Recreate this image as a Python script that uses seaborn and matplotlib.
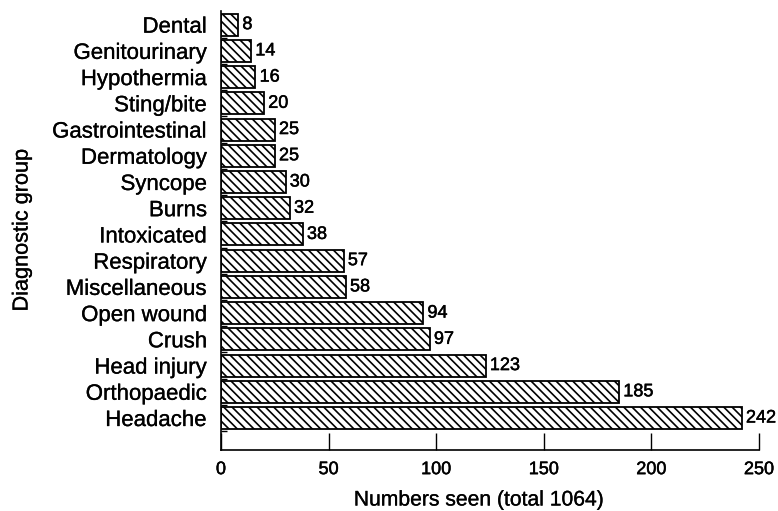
import matplotlib
matplotlib.use("Agg")
import matplotlib.pyplot as plt
import matplotlib.patheffects as pe
import seaborn as sns
import pandas as pd
import numpy as np

categories = ["Dental", "Genitourinary", "Hypothermia", "Sting/bite", "Gastrointestinal",
              "Dermatology", "Syncope", "Burns", "Intoxicated", "Respiratory",
              "Miscellaneous", "Open wound", "Crush", "Head injury", "Orthopaedic", "Headache"]
counts = [8, 14, 16, 20, 25, 25, 30, 32, 38, 57, 58, 94, 97, 123, 185, 242]
x_ticks = [0, 50, 100, 150, 200, 250]

sns.set_theme(style="ticks")
plt.rcParams['font.family'] = ['Liberation Sans', 'DejaVu Sans']
plt.rcParams['hatch.linewidth'] = 1.2
plt.rcParams['hatch.color'] = 'black'

df = pd.DataFrame({"Diagnostic group": categories, "Numbers": counts})

fig = plt.figure(figsize=(7.78, 5.11), dpi=100)
ax = fig.add_axes([221/778, 1 - 450/511, (759 - 221)/778, (450 - 11)/511])

sns.barplot(data=df, x="Numbers", y="Diagnostic group", order=categories,
            color="white", edgecolor="black", linewidth=1.3, width=0.84,
            orient="h", ax=ax, saturation=1)
for p in ax.patches:
    p.set_hatch("\\\\\\\\")
    p.set_facecolor("white")
    p.set_edgecolor("black")

labels = ax.bar_label(ax.containers[0], labels=[str(v) for v in counts], padding=3,
                      fontsize=13, color="black")
for t in labels:
    t.set_path_effects([pe.withStroke(linewidth=0.35, foreground="black")])

ax.set_xlim(0, 250)
ax.set_ylim(16.22, -0.52)
ax.set_xticks(x_ticks)
ax.set_xticklabels([str(t) for t in x_ticks], fontsize=13)
ax.tick_params(axis="x", direction="in", length=12.5, width=1.0, pad=8, colors="black")
ax.tick_params(axis="y", which="major", length=0, pad=10, labelsize=16, colors="black")
ax.set_yticks(np.arange(len(categories)) + 0.5, minor=True)
ax.tick_params(axis="y", which="minor", direction="in", length=4, width=1.0, color="black")

for s in ["top", "right"]:
    ax.spines[s].set_visible(False)
for s in ["left", "bottom"]:
    ax.spines[s].set_color("black")
    ax.spines[s].set_linewidth(1.2)

ax.set_xlabel("Numbers seen (total 1064)", fontsize=15.2, color="black")
ax.xaxis.set_label_coords((479 - 221) / (759 - 221), -(500 - 450) / (450 - 11), transform=ax.transAxes)
ax.xaxis.label.set_va("center")
ax.set_ylabel("Diagnostic group", fontsize=15.6, color="black")
ax.yaxis.set_label_coords(-(221 - 22) / (759 - 221), 0.5)
ax.yaxis.label.set_va("center")

for t in ax.get_xticklabels():
    t.set_path_effects([pe.withStroke(linewidth=0.35, foreground="black")])
for t in ax.get_yticklabels() + [ax.xaxis.label, ax.yaxis.label]:
    t.set_path_effects([pe.withStroke(linewidth=0.2, foreground="black")])

fig.savefig("out.png", dpi=100)
